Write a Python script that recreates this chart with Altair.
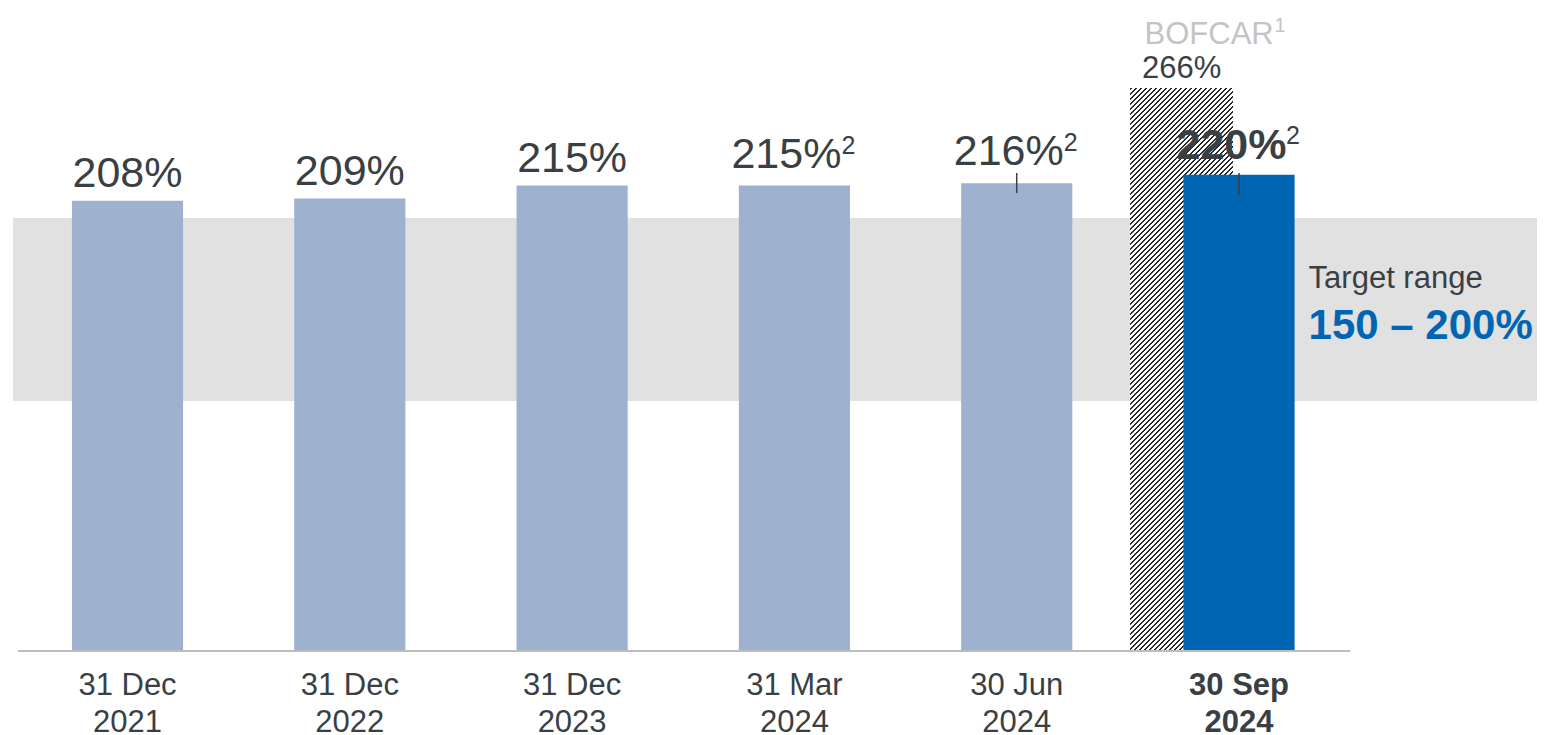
import altair as alt
import pandas as pd

# ---------------- data ----------------
date_line1 = ["31 Dec", "31 Dec", "31 Dec", "31 Mar", "30 Jun", "30 Sep"]
date_line2 = ["2021", "2022", "2023", "2024", "2024", "2024"]
ratios = [208, 209, 215, 215, 216, 220]
footnotes = ["", "", "", "2", "2", "2"]
status = ["past", "past", "past", "past", "past", "current"]
tick_low = [0, 0, 0, 0, 211.5, 210.6]
tick_high = [0, 0, 0, 0, 220.8, 220.8]

bofcar_label = 266      # printed value
bofcar_drawn = 260      # drawn bar height
target_low, target_high = 150, 200
band_top, band_bottom = 200, 115.5

# ---------------- layout / style ----------------
W, H = 1547, 727
X_DOM = [-0.5376, 6.4214]
Y_DOM = [-38.8, 297.0]
step = W / (X_DOM[1] - X_DOM[0])
k = H / (Y_DOM[1] - Y_DOM[0])

FONT = "Liberation Sans"
DARK = "#3a3f44"
LIGHT_BAR = "#9eb1ce"
BLUE = "#0066b3"
BAND = "#e1e1e1"
GREY_TXT = "#c4c4c4"

xs = alt.Scale(domain=X_DOM, nice=False, zero=False)
ys = alt.Scale(domain=Y_DOM, nice=False, zero=False)

n = len(ratios)
df = pd.DataFrame({
    "i": list(range(n)),
    "l1": date_line1,
    "l2": date_line2,
    "ratio": ratios,
    "label": [f"{r}%" for r in ratios],
    "fn": footnotes,
    "status": status,
    "tlo": tick_low,
    "thi": tick_high,
    "zero": [0] * n,
})
df["x1"] = df["i"] - 0.25
df["x2"] = df["i"] + 0.25

base = alt.Chart(df)
X = lambda f: alt.X(f, scale=xs, axis=None)
Y = lambda f: alt.Y(f, scale=ys, axis=None)

# target band
band_df = pd.DataFrame({"x": [X_DOM[0] + 0.0226], "x2": [X_DOM[1] - 0.081],
                        "y": [band_bottom], "y2": [band_top]})
band = alt.Chart(band_df).mark_rect(color=BAND).encode(
    x=X("x:Q"), x2="x2:Q", y=Y("y:Q"), y2="y2:Q")

# hatched BOFCAR bar (diagonal stripes made from a hard-stop linear gradient)
hx1, hx2 = 5 - 0.49, 5 - 0.027
w_px = (hx2 - hx1) * step
h_px = bofcar_drawn * k
D = w_px * (1 + (h_px / w_px) ** 2)
period = 5.0
dark_frac = 0.42
stops = []
m = 0
while m * period < (w_px + h_px + period):
    t0 = m * period / D
    t1 = (m * period + period * dark_frac) / D
    t2 = (m + 1) * period / D
    if t2 > 1:
        break
    stops += [alt.GradientStop(offset=t0, color="#2a2a2a"),
              alt.GradientStop(offset=t1, color="#2a2a2a"),
              alt.GradientStop(offset=t1, color="#ffffff"),
              alt.GradientStop(offset=t2, color="#ffffff")]
    m += 1
hatch_fill = alt.LinearGradient(gradient="linear", x1=0, y1=0, x2=1, y2=h_px / w_px, stops=stops)
hatch_df = pd.DataFrame({"x": [hx1], "x2": [hx2], "y": [0], "y2": [bofcar_drawn],
                         "c": [(hx1 + hx2) / 2], "lab": [f"{bofcar_label}%"],
                         "name": ["BOFCAR"], "sup": ["1"]})
hatch = alt.Chart(hatch_df).mark_rect(color=hatch_fill, strokeWidth=0).encode(
    x=X("x:Q"), x2="x2:Q", y=Y("y:Q"), y2="y2:Q")
hatch_val = alt.Chart(hatch_df).mark_text(font=FONT, fontSize=31, color=DARK,
                                          align="center", baseline="alphabetic", dy=-10).encode(
    x=X("c:Q"), y=Y("y2:Q"), text="lab:N")
hatch_name = alt.Chart(hatch_df).mark_text(font=FONT, fontSize=31, color=GREY_TXT,
                                           align="left", baseline="alphabetic", dx=-37, dy=-44).encode(
    x=X("c:Q"), y=Y("y2:Q"), text="name:N")
hatch_sup = alt.Chart(hatch_df).mark_text(font=FONT, fontSize=20, color=GREY_TXT,
                                          align="left", baseline="alphabetic", dx=93, dy=-56).encode(
    x=X("c:Q"), y=Y("y2:Q"), text="sup:N")

# baseline
base_df = pd.DataFrame({"x": [X_DOM[0] + 0.045], "x2": [5.5], "y": [0]})
baseline = alt.Chart(base_df).mark_rule(color="#bdbdbd", strokeWidth=2).encode(
    x=X("x:Q"), x2="x2:Q", y=Y("y:Q"))

bars = base.mark_rect(strokeWidth=0).encode(
    x=X("x1:Q"), x2="x2:Q", y=Y("ratio:Q"), y2="zero:Q",
    color=alt.Color("status:N", scale=alt.Scale(domain=["past", "current"], range=[LIGHT_BAR, BLUE]),
                    legend=None))

ticks = base.transform_filter("datum.thi > 0").mark_rule(color=DARK, strokeWidth=1.5).encode(
    x=X("i:Q"), y=Y("tlo:Q"), y2="thi:Q")


def txt(filt, **kw):
    return base.transform_filter(filt).mark_text(font=FONT, baseline="alphabetic", **kw)


lab_plain = txt("datum.fn == ''", fontSize=43, color=DARK, align="center", dy=-14).encode(
    x=X("i:Q"), y=Y("ratio:Q"), text="label:N")
lab_fn = txt("datum.fn != '' && datum.status == 'past'", fontSize=43, color=DARK, align="center",
             dx=-8, dy=-18).encode(x=X("i:Q"), y=Y("ratio:Q"), text="label:N")
lab_cur = txt("datum.status == 'current'", fontSize=43, color=DARK, align="center", fontWeight="bold",
              dx=-7.5, dy=-16).encode(x=X("i:Q"), y=Y("ratio:Q"), text="label:N")
sup_fn = txt("datum.fn != '' && datum.status == 'past'", fontSize=25, color=DARK, align="left",
             dx=47, dy=-32).encode(x=X("i:Q"), y=Y("ratio:Q"), text="fn:N")
sup_cur = txt("datum.status == 'current'", fontSize=25, color=DARK, align="left",
              dx=47, dy=-31).encode(x=X("i:Q"), y=Y("ratio:Q"), text="fn:N")

# x labels (two lines)
xl1 = txt("datum.status == 'past'", fontSize=31, color=DARK, align="center", dy=44).encode(
    x=X("i:Q"), y=Y("zero:Q"), text="l1:N")
xl2 = txt("datum.status == 'past'", fontSize=31, color=DARK, align="center", dy=81).encode(
    x=X("i:Q"), y=Y("zero:Q"), text="l2:N")
xl1b = txt("datum.status == 'current'", fontSize=31, color=DARK, align="center", dy=44,
           fontWeight="bold").encode(x=X("i:Q"), y=Y("zero:Q"), text="l1:N")
xl2b = txt("datum.status == 'current'", fontSize=31, color=DARK, align="center", dy=81,
           fontWeight="bold").encode(x=X("i:Q"), y=Y("zero:Q"), text="l2:N")

# target range text
tr_df = pd.DataFrame({"x": [5.25], "y": [band_top], "t1": ["Target range"],
                      "t2": [f"{target_low} – {target_high}%"]})
tr1 = alt.Chart(tr_df).mark_text(font=FONT, fontSize=31, color=DARK, align="left",
                                 baseline="alphabetic", dx=14, dy=70).encode(
    x=X("x:Q"), y=Y("y:Q"), text="t1:N")
tr2 = alt.Chart(tr_df).mark_text(font=FONT, fontSize=42, color=BLUE, fontWeight="bold", align="left",
                                 baseline="alphabetic", dx=14, dy=121).encode(
    x=X("x:Q"), y=Y("y:Q"), text="t2:N")

chart = alt.layer(
    band, hatch, bars, baseline, ticks,
    lab_plain, lab_fn, lab_cur, sup_fn, sup_cur,
    hatch_val, hatch_name, hatch_sup,
    xl1, xl2, xl1b, xl2b, tr1, tr2,
).properties(
    width=W, height=H, padding=0, autosize=alt.AutoSizeParams(type="none"),
    background="white",
).configure_view(stroke=None)

chart.save("out.html", embed_options={"renderer": "svg", "actions": False})
